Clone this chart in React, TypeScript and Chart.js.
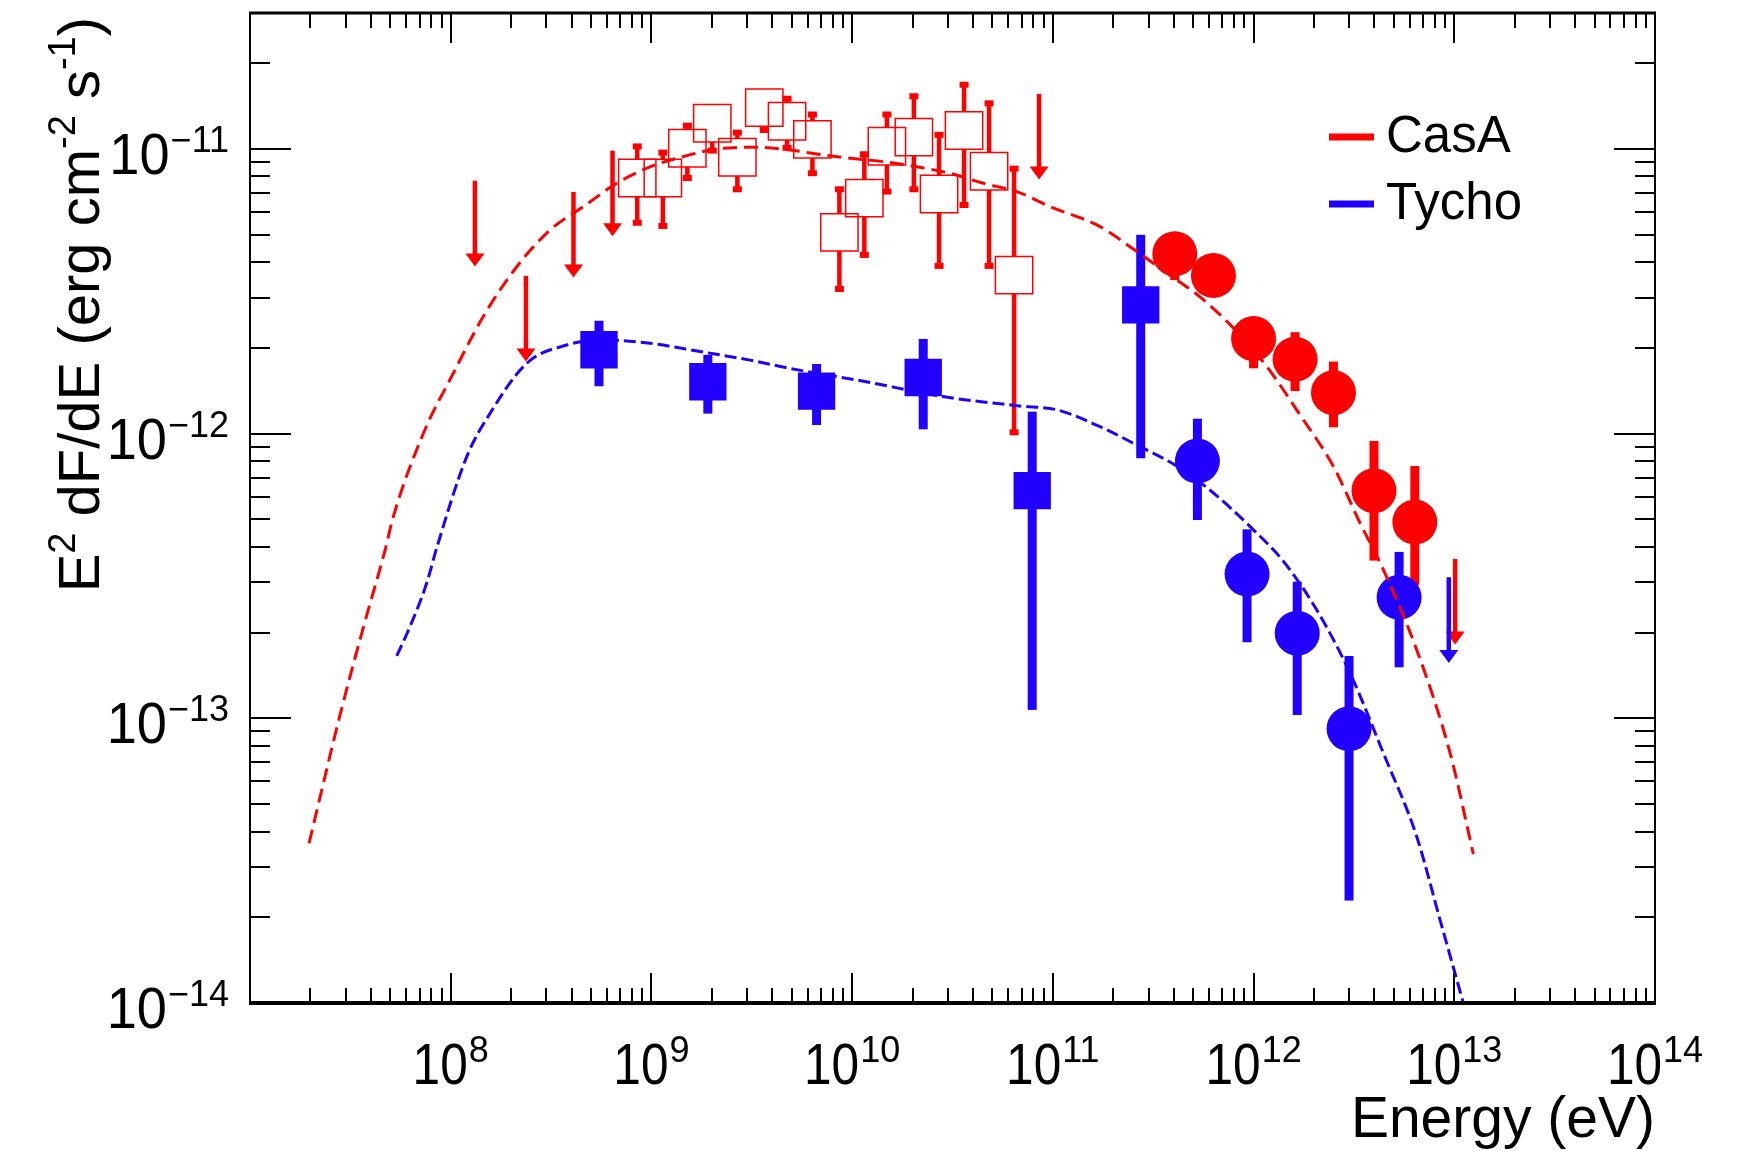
import React, { useEffect, useRef } from 'react';
import { Chart, registerables } from 'chart.js';

Chart.register(...registerables);

// ---------- colours / fonts ----------
const RED = '#ff0000';
const BLUE = '#2200ff';
const FONT = '"Liberation Sans", Arial, Helvetica, sans-serif';

// ---------- axis ranges & tick labels ----------
const xMin = 1e7;
const xMax = 1e14;
const yMin = 1e-14;
const yMax = 3e-11;
const xLabelExps = ['8', '9', '10', '11', '12', '13', '14'];
const yLabelExps = ['\u221214', '\u221213', '\u221212', '\u221211'];
const xTitle = 'Energy (eV)';
const legendNames = ['CasA', 'Tycho'];

// ---------- CasA Fermi-LAT (open squares) ----------
const casaLatE = [8.5e8, 1.14e9, 1.51e9, 2.01e9, 2.68e9, 3.65e9, 4.74e9, 6.34e9, 8.64e9, 1.15e10, 1.49e10, 2.03e10, 2.71e10, 3.61e10, 4.81e10, 6.41e10];
const casaLatF = [7.9e-12, 7.9e-12, 1.005e-11, 1.23e-11, 9.34e-12, 1.395e-11, 1.25e-11, 1.08e-11, 5.09e-12, 6.71e-12, 1.021e-11, 1.1e-11, 6.94e-12, 1.16e-11, 8.34e-12, 3.6e-12];
const casaLatHi = [1.02e-11, 9.7e-12, 1.206e-11, 1.42e-11, 1.14e-11, 1.62e-11, 1.5e-11, 1.32e-11, 7.21e-12, 9.57e-12, 1.32e-11, 1.53e-11, 1.12e-11, 1.68e-11, 1.445e-11, 8.52e-12];
const casaLatLo = [5.5e-12, 5.36e-12, 7.9e-12, 9.86e-12, 7.21e-12, 1.165e-11, 1.008e-11, 8.21e-12, 3.22e-12, 4.24e-12, 7.08e-12, 7.21e-12, 3.88e-12, 6.35e-12, 3.88e-12, 1.01e-12];

// ---------- CasA IACT (filled circles) ----------
const casaIactE = [4.05e11, 6.31e11, 1.0e12, 1.61e12, 2.5e12, 3.98e12, 6.36e12];
const casaIactF = [4.28e-12, 3.59e-12, 2.155e-12, 1.824e-12, 1.392e-12, 6.3e-13, 4.89e-13];
const casaIactHi = [4.9e-12, 4.0e-12, 2.55e-12, 2.27e-12, 1.79e-12, 9.42e-13, 7.69e-13];
const casaIactLo = [3.46e-12, 3.2e-12, 1.695e-12, 1.41e-12, 1.052e-12, 3.58e-13, 2.94e-13];

// ---------- Tycho Fermi-LAT (filled squares) ----------
const tychoLatE = [5.48e8, 1.91e9, 6.65e9, 2.26e10, 7.89e10, 2.74e11];
const tychoLatF = [1.97e-12, 1.52e-12, 1.41e-12, 1.574e-12, 6.3e-13, 2.83e-12];
const tychoLatHi = [2.49e-12, 1.89e-12, 1.755e-12, 2.15e-12, 1.194e-12, 4.99e-12];
const tychoLatLo = [1.466e-12, 1.175e-12, 1.072e-12, 1.035e-12, 1.07e-13, 8.19e-13];

// ---------- Tycho IACT (filled circles) ----------
const tychoIactE = [5.25e11, 9.28e11, 1.65e12, 2.99e12, 5.31e12];
const tychoIactF = [8.01e-13, 3.21e-13, 1.99e-13, 9.19e-14, 2.66e-13];
const tychoIactHi = [1.128e-12, 4.61e-13, 3.02e-13, 1.655e-13, 3.84e-13];
const tychoIactLo = [4.97e-13, 1.85e-13, 1.027e-13, 2.29e-14, 1.51e-13];

// ---------- upper limits ----------
const casaUlE = [1.32e8, 2.37e8, 4.09e8, 6.4e8, 8.54e10, 1.01e13];
const casaUlF = [7.73e-12, 3.58e-12, 7.06e-12, 9.86e-12, 1.56e-11, 3.63e-13];
const tychoUlE = [9.39e12];
const tychoUlF = [3.13e-13];
const ulArrowFactor = 0.5; // arrow reaches down to UL * factor

// ---------- model curves (log10 E, log10 E^2 dF/dE) ----------
const casaModelLogE = [7.294, 7.448, 7.565, 7.673, 7.714, 7.864, 8.013, 8.162, 8.329, 8.495, 8.661, 8.827, 8.993, 9.159, 9.325, 9.491, 9.657, 9.824, 9.99, 10.155, 10.322, 10.488, 10.654, 10.82, 10.986, 11.235, 11.401, 11.568, 11.733, 11.899, 12.066, 12.232, 12.398, 12.531, 12.647, 12.813, 12.979, 13.095];
const casaModelLogF = [-13.439, -12.99, -12.68, -12.409, -12.292, -11.999, -11.788, -11.589, -11.414, -11.285, -11.203, -11.121, -11.063, -11.027, -11.001, -10.994, -11.001, -11.018, -11.033, -11.045, -11.063, -11.086, -11.121, -11.15, -11.203, -11.273, -11.352, -11.436, -11.52, -11.629, -11.765, -11.935, -12.116, -12.315, -12.479, -12.76, -13.122, -13.477];
const tychoModelLogE = [7.731, 7.797, 7.88, 7.93, 8.08, 8.196, 8.379, 8.578, 8.744, 8.993, 9.242, 9.491, 9.689, 10.07, 10.451, 10.833, 11.023, 11.235, 11.401, 11.65, 11.817, 11.983, 12.149, 12.315, 12.481, 12.647, 12.813, 12.929, 13.045];
const tychoModelLogF = [-12.781, -12.678, -12.526, -12.402, -12.081, -11.929, -11.753, -11.689, -11.671, -11.683, -11.712, -11.742, -11.771, -11.818, -11.87, -11.903, -11.917, -11.976, -12.034, -12.128, -12.219, -12.327, -12.449, -12.62, -12.842, -13.123, -13.416, -13.708, -14.0];

const toPts = (xs: number[], ys: number[]) => xs.map((x, i) => ({ x, y: ys[i] }));
const toLogPts = (xs: number[], ys: number[]) => xs.map((x, i) => ({ x: Math.pow(10, x), y: Math.pow(10, ys[i]) }));

const SQUARE_R = 26.4; // chart.js 'rect' radius -> side ~37px
const CIRCLE_R = 22.5;
const SQUARE_HALF = SQUARE_R * Math.SQRT1_2;

function drawBars(ctx: CanvasRenderingContext2D, chart: any, es: number[], fs: number[], his: number[], los: number[], color: string, width: number, gapHalf: number, cap: boolean) {
  const xs = chart.scales.x;
  const ys = chart.scales.y;
  ctx.fillStyle = color;
  for (let i = 0; i < es.length; i++) {
    const px = xs.getPixelForValue(es[i]);
    const py = ys.getPixelForValue(fs[i]);
    const ph = ys.getPixelForValue(his[i]);
    const pl = ys.getPixelForValue(los[i]);
    if (py - gapHalf > ph) {
      ctx.fillRect(px - width / 2, ph, width, py - gapHalf - ph);
      if (cap) ctx.fillRect(px - 4.5, ph - 3, 9, 6);
    }
    if (pl > py + gapHalf) {
      ctx.fillRect(px - width / 2, py + gapHalf, width, pl - py - gapHalf);
      if (cap) ctx.fillRect(px - 4.5, pl - 3, 9, 6);
    }
  }
}

function drawArrows(ctx: CanvasRenderingContext2D, chart: any, es: number[], fs: number[], color: string) {
  const xs = chart.scales.x;
  const ys = chart.scales.y;
  ctx.fillStyle = color;
  for (let i = 0; i < es.length; i++) {
    const px = xs.getPixelForValue(es[i]);
    const top = ys.getPixelForValue(fs[i]);
    const tip = ys.getPixelForValue(fs[i] * ulArrowFactor);
    const headH = 13;
    const headW = 19;
    ctx.fillRect(px - 2.25, top, 4.5, tip - top - headH + 1);
    ctx.beginPath();
    ctx.moveTo(px - headW / 2, tip - headH);
    ctx.lineTo(px + headW / 2, tip - headH);
    ctx.lineTo(px, tip);
    ctx.closePath();
    ctx.fill();
  }
}

const barsPlugin = {
  id: 'barsPlugin',
  beforeDatasetsDraw(chart: any) {
    const { ctx, chartArea } = chart;
    ctx.save();
    ctx.beginPath();
    ctx.rect(chartArea.left, chartArea.top, chartArea.right - chartArea.left, chartArea.bottom - chartArea.top);
    ctx.clip();
    drawBars(ctx, chart, casaLatE, casaLatF, casaLatHi, casaLatLo, RED, 4.5, SQUARE_HALF, true);
    drawBars(ctx, chart, tychoLatE, tychoLatF, tychoLatHi, tychoLatLo, BLUE, 9, 0, false);
    drawBars(ctx, chart, casaIactE, casaIactF, casaIactHi, casaIactLo, RED, 9, 0, false);
    drawBars(ctx, chart, tychoIactE, tychoIactF, tychoIactHi, tychoIactLo, BLUE, 9, 0, false);
    drawArrows(ctx, chart, casaUlE, casaUlF, RED);
    drawArrows(ctx, chart, tychoUlE, tychoUlF, BLUE);
    ctx.restore();
  },
};

function drawPow(ctx: CanvasRenderingContext2D, exp: string, x: number, baseY: number, align: 'center' | 'right', sx: number) {
  ctx.font = `57px ${FONT}`;
  const bw = ctx.measureText('10').width * sx;
  ctx.font = `36px ${FONT}`;
  const ew = ctx.measureText(exp).width;
  const total = bw + 1 + ew;
  const x0 = align === 'center' ? x - total / 2 : x - total;
  ctx.save();
  ctx.translate(x0, baseY);
  ctx.scale(sx, 1);
  ctx.font = `57px ${FONT}`;
  ctx.fillText('10', 0, 0);
  ctx.restore();
  ctx.font = `36px ${FONT}`;
  ctx.fillText(exp, x0 + bw + 1, baseY - 22);
}

const axesPlugin = {
  id: 'axesPlugin',
  afterDraw(chart: any) {
    const { ctx, chartArea } = chart;
    const xs = chart.scales.x;
    const ys = chart.scales.y;
    const { left, right, top, bottom } = chartArea;
    ctx.save();
    ctx.strokeStyle = '#000';
    ctx.fillStyle = '#000';
    ctx.lineWidth = 2;
    const seg = (x1: number, y1: number, x2: number, y2: number) => {
      ctx.beginPath();
      ctx.moveTo(x1, y1);
      ctx.lineTo(x2, y2);
      ctx.stroke();
    };
    // x ticks
    const ex0 = Math.round(Math.log10(xMin));
    const ex1 = Math.round(Math.log10(xMax));
    for (let e = ex0; e <= ex1; e++) {
      for (let k = 1; k <= 9; k++) {
        const v = k * Math.pow(10, e);
        if (v < xMin * 0.999 || v > xMax * 1.001) continue;
        const px = Math.round(xs.getPixelForValue(v));
        const len = k === 1 ? 30 : 15;
        seg(px, bottom, px, bottom - len);
        seg(px, top, px, top + len);
      }
    }
    // y ticks
    const ey0 = Math.floor(Math.log10(yMin) + 1e-9);
    const ey1 = Math.floor(Math.log10(yMax) + 1e-9);
    for (let e = ey0; e <= ey1; e++) {
      for (let k = 1; k <= 9; k++) {
        const v = k * Math.pow(10, e);
        if (v < yMin * 0.999 || v > yMax * 1.001) continue;
        const py = Math.round(ys.getPixelForValue(v));
        const len = k === 1 ? 41 : 20;
        seg(left, py, left + len, py);
        seg(right, py, right - len, py);
      }
    }
    // frame
    ctx.lineWidth = 2;
    seg(left, top, left, bottom);
    seg(right, top, right, bottom);
    ctx.lineWidth = 3;
    seg(left - 1, top, right + 1, top);
    ctx.lineWidth = 4;
    seg(left - 1, bottom, right + 1, bottom);

    // x tick labels
    ctx.textBaseline = 'alphabetic';
    ctx.textAlign = 'left';
    xLabelExps.forEach((ex) => {
      const px = xs.getPixelForValue(Math.pow(10, Number(ex)));
      drawPow(ctx, ex, px, bottom + 81, 'center', 0.87);
    });
    // y tick labels
    yLabelExps.forEach((ex) => {
      const v = Math.pow(10, Number(ex.replace('\u2212', '-')));
      const py = ys.getPixelForValue(v);
      drawPow(ctx, ex, left - 21, py + 25, 'right', 0.95);
    });

    // x title
    ctx.font = `57px ${FONT}`;
    ctx.textAlign = 'right';
    ctx.fillText(xTitle, right, bottom + 134);

    // y title (rotated) with superscripts
    const segs: [string, boolean][] = [['E', false], ['2', true], [' dF/dE (erg cm', false], ['-2', true], [' s', false], ['-1', true], [')', false]];
    const mainF = `58px ${FONT}`;
    const supF = `38px ${FONT}`;
    let total = 0;
    segs.forEach(([t, s]) => { ctx.font = s ? supF : mainF; total += ctx.measureText(t).width; });
    ctx.save();
    ctx.translate(99, top + 4);
    ctx.rotate(-Math.PI / 2);
    ctx.textAlign = 'left';
    let cx = -total;
    segs.forEach(([t, s]) => {
      ctx.font = s ? supF : mainF;
      ctx.fillText(t, cx, s ? -24 : 0);
      cx += ctx.measureText(t).width;
    });
    ctx.restore();

    // legend
    const legColors = [RED, BLUE];
    const legY = [top + 124, top + 191];
    legendNames.forEach((name, i) => {
      ctx.fillStyle = legColors[i];
      ctx.fillRect(1329, legY[i] - 3.5, 45, 7);
      ctx.fillStyle = '#000';
      ctx.font = `51px ${FONT}`;
      ctx.textAlign = 'left';
      ctx.fillText(name, 1386, legY[i] + 15);
    });
    ctx.restore();
  },
};

export default function App() {
  const ref = useRef<HTMLCanvasElement>(null);
  useEffect(() => {
    const canvas = ref.current;
    if (!canvas) return;
    const chart = new Chart(canvas, {
      type: 'scatter',
      data: {
        datasets: [
          {
            type: 'line',
            label: 'CasA model',
            data: toLogPts(casaModelLogE, casaModelLogF),
            borderColor: RED,
            borderWidth: 3,
            borderDash: [14, 7],
            pointRadius: 0,
            fill: false,
            cubicInterpolationMode: 'monotone',
            order: 0,
          } as any,
          {
            type: 'line',
            label: 'Tycho model',
            data: toLogPts(tychoModelLogE, tychoModelLogF),
            borderColor: BLUE,
            borderWidth: 3,
            borderDash: [12, 5],
            pointRadius: 0,
            fill: false,
            cubicInterpolationMode: 'monotone',
            order: 1,
          } as any,
          {
            label: 'CasA LAT',
            data: toPts(casaLatE, casaLatF),
            pointStyle: 'rect',
            pointRadius: SQUARE_R,
            backgroundColor: 'rgba(255,255,255,0)',
            borderColor: RED,
            borderWidth: 1.5,
            order: 5,
          } as any,
          {
            label: 'Tycho LAT',
            data: toPts(tychoLatE, tychoLatF),
            pointStyle: 'rect',
            pointRadius: SQUARE_R,
            backgroundColor: BLUE,
            borderColor: BLUE,
            borderWidth: 0,
            order: 4,
          } as any,
          {
            label: 'CasA IACT',
            data: toPts(casaIactE, casaIactF),
            pointStyle: 'circle',
            pointRadius: CIRCLE_R,
            backgroundColor: RED,
            borderColor: RED,
            borderWidth: 0,
            order: 3,
          } as any,
          {
            label: 'Tycho IACT',
            data: toPts(tychoIactE, tychoIactF),
            pointStyle: 'circle',
            pointRadius: CIRCLE_R,
            backgroundColor: BLUE,
            borderColor: BLUE,
            borderWidth: 0,
            order: 2,
          } as any,
        ],
      },
      options: {
        animation: false,
        responsive: false,
        events: [],
        layout: { autoPadding: false, padding: { left: 250, right: 1742 - 1655, top: 13, bottom: 1151 - 1003 } },
        scales: {
          x: { type: 'logarithmic', min: xMin, max: xMax, display: false },
          y: { type: 'logarithmic', min: yMin, max: yMax, display: false },
        },
        plugins: { legend: { display: false }, tooltip: { enabled: false } },
      },
      plugins: [barsPlugin, axesPlugin],
    } as any);
    return () => chart.destroy();
  }, []);
  return (
    <div style={{ position: 'fixed', left: 0, top: 0, width: 1742, height: 1151, background: '#fff' }}>
      <canvas ref={ref} width={1742} height={1151} style={{ display: 'block', width: 1742, height: 1151 }} />
    </div>
  );
}
